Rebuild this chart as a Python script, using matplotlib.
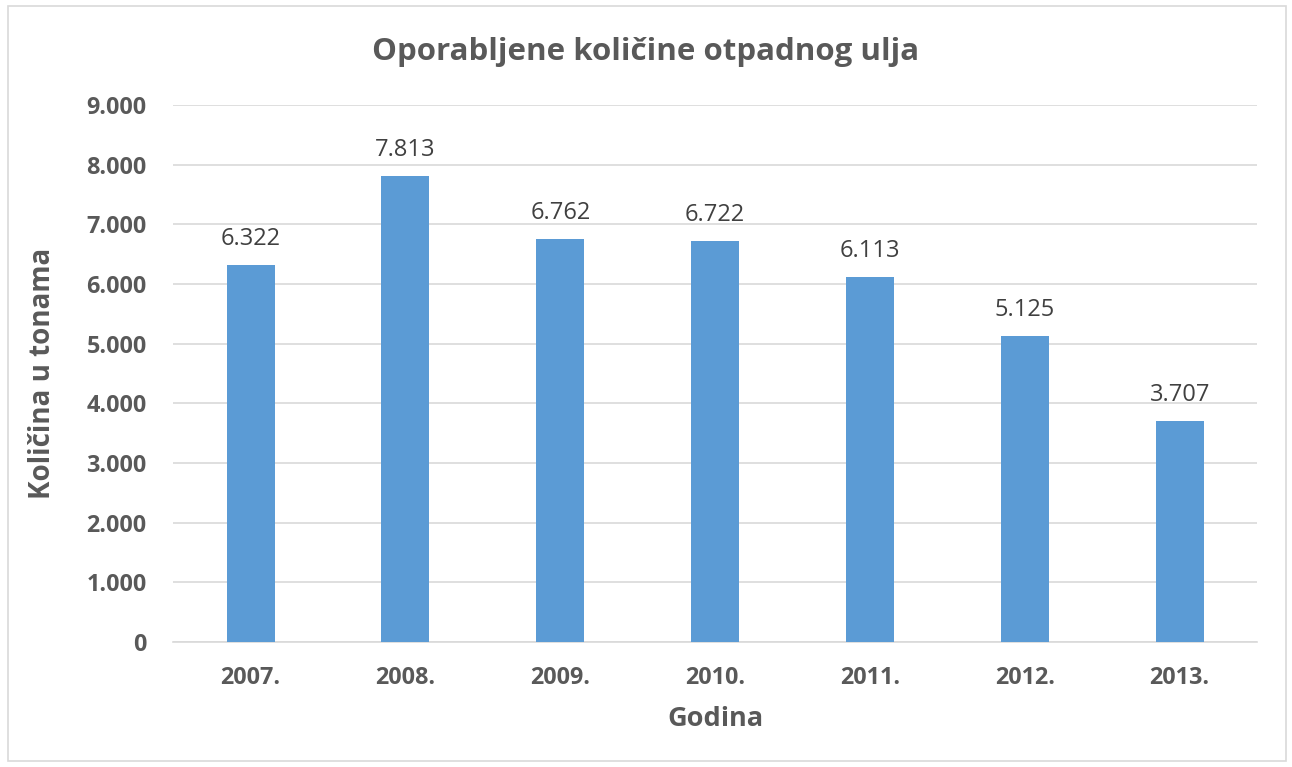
import matplotlib
matplotlib.use('Agg')
import matplotlib.pyplot as plt
from matplotlib.patches import Rectangle
from matplotlib.ticker import FuncFormatter

# podaci
godine = ['2007.', '2008.', '2009.', '2010.', '2011.', '2012.', '2013.']
kolicine = [6322, 7813, 6762, 6722, 6113, 5125, 3707]
yticks = [0, 1000, 2000, 3000, 4000, 5000, 6000, 7000, 8000, 9000]

BLUE = '#5B9BD5'
GRID = '#D9D9D9'
TXT = '#595959'

plt.rcParams['font.family'] = ['Open Sans', 'DejaVu Sans']

def fmt(v):
    return f'{int(v):,}'.replace(',', '.')

fig = plt.figure(figsize=(12.92, 7.67), dpi=100)
ax = fig.add_axes([0.134, 0.163, 0.839, 0.700])

x = range(len(godine))
ax.bar(x, kolicine, width=0.31, color=BLUE, zorder=3)
for xi, v in zip(x, kolicine):
    ax.annotate(fmt(v), (xi, v), xytext=(0, 10), textcoords='offset points',
                ha='center', va='bottom', fontsize=17, color='#404040')

ax.set_xlim(-0.5, len(godine) - 0.5)
ax.set_ylim(0, 9000)
ax.set_yticks(yticks)
ax.yaxis.set_major_formatter(FuncFormatter(lambda v, p: fmt(v)))
ax.set_xticks(list(x))
ax.set_xticklabels(godine)
ax.grid(axis='y', color=GRID, lw=1.2, zorder=0)
for s in ['top', 'right', 'left']:
    ax.spines[s].set_visible(False)
ax.spines['bottom'].set_color(GRID)
ax.spines['bottom'].set_linewidth(1.2)
ax.tick_params(length=0, labelsize=16.8, labelcolor=TXT, pad=17)
ax.tick_params(axis='y', pad=19)
for lb in ax.get_xticklabels() + ax.get_yticklabels():
    lb.set_fontweight('bold')

ax.set_xlabel('Godina', fontsize=19.5, fontweight='bold', color=TXT, labelpad=12)
ax.set_ylabel('Količina u tonama', fontsize=20, fontweight='bold', color=TXT, labelpad=21)
fig.text(0.5, 0.932, 'Oporabljene količine otpadnog ulja', ha='center', va='center',
         fontsize=22.5, fontweight='bold', color=TXT)

fig.patches.append(Rectangle((0.006, 0.008), 0.989, 0.984, transform=fig.transFigure,
                             fill=False, edgecolor=GRID, lw=1.2))

fig.savefig('out.png', dpi=100, facecolor='white')
